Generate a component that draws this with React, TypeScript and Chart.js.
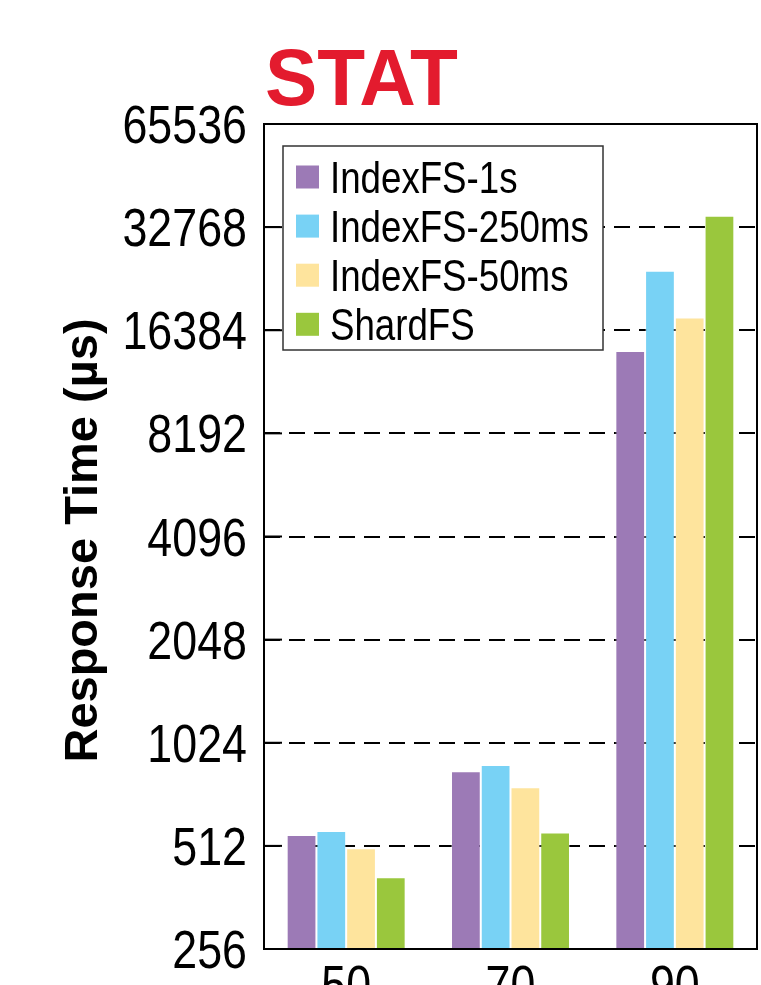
import React, { useEffect, useRef } from "react";
import { Chart, registerables } from "chart.js";

Chart.register(...registerables);

const categories = ["50", "70", "90"];
const seriesNames = ["IndexFS-1s", "IndexFS-250ms", "IndexFS-50ms", "ShardFS"];
const indexfs1s = [551, 845, 14260];
const indexfs250ms = [566, 882, 24430];
const indexfs50ms = [504, 759, 17840];
const shardfs = [415, 560, 35350];
const yTicks = [256, 512, 1024, 2048, 4096, 8192, 16384, 32768, 65536];
const seriesColors = ["#9c7ab6", "#78d2f5", "#fee49d", "#9ac73d"];
const chartTitle = "STAT";
const yTitle = "Response Time (\u00b5s)";

const SANS = "'Liberation Sans', Arial, sans-serif";

function narrowText(ctx: any, text: string, x: number, y: number, align: "left" | "right" | "center", k = 0.82) {
  const w = ctx.measureText(text).width * k;
  let x0 = x;
  if (align === "right") x0 = x - w;
  else if (align === "center") x0 = x - w / 2;
  ctx.save();
  ctx.textAlign = "left";
  ctx.translate(x0, y);
  ctx.scale(k, 1);
  ctx.fillText(text, 0, 0);
  ctx.restore();
}

const decorPlugin = {
  id: "decor",
  afterDatasetsDraw(chart: any) {
    const { ctx, chartArea: ca, scales } = chart;
    ctx.save();
    // inner tick marks on left
    ctx.strokeStyle = "#000";
    ctx.lineWidth = 2;
    yTicks.forEach((v) => {
      const y = scales.y.getPixelForValue(v);
      ctx.beginPath();
      ctx.moveTo(ca.left, y);
      ctx.lineTo(ca.left + 18, y);
      ctx.stroke();
    });
    // frame
    ctx.lineWidth = 2;
    ctx.strokeRect(ca.left, ca.top, ca.right - ca.left, ca.bottom - ca.top);

    // y tick labels
    ctx.fillStyle = "#000";
    ctx.font = `53px ${SANS}`;
    ctx.textBaseline = "alphabetic";
    yTicks.forEach((v) => {
      const y = scales.y.getPixelForValue(v);
      narrowText(ctx, String(v), ca.left - 17, y + 19, "right", 0.845);
    });
    // x tick labels
    categories.forEach((c, i) => {
      const x = scales.x.getPixelForValue(i);
      narrowText(ctx, c, x, ca.bottom + 54, "center", 0.845);
    });

    // legend
    const lx = ca.left + 19;
    const ly = ca.top + 22;
    const lw = 320;
    const lh = 204;
    ctx.fillStyle = "#fff";
    ctx.fillRect(lx, ly, lw, lh);
    ctx.strokeStyle = "#333";
    ctx.lineWidth = 1.5;
    ctx.strokeRect(lx, ly, lw, lh);
    ctx.font = `45px ${SANS}`;
    ctx.textBaseline = "alphabetic";
    chart.data.datasets.forEach((ds: any, i: number) => {
      const cy = ly + 31 + i * 49.1;
      ctx.fillStyle = ds.backgroundColor;
      ctx.fillRect(lx + 13, cy - 11.5, 23, 23);
      ctx.fillStyle = "#000";
      narrowText(ctx, ds.label, lx + 47, cy + 16, "left", 0.815);
    });

    // title
    ctx.fillStyle = "#e31b2e";
    ctx.font = `bold 80px ${SANS}`;
    ctx.textBaseline = "alphabetic";
    const tw = ctx.measureText(chartTitle).width;
    ctx.save();
    ctx.translate(ca.left + 1, 105);
    ctx.scale(193 / tw, 1);
    ctx.textAlign = "left";
    ctx.fillText(chartTitle, 0, 0);
    ctx.restore();

    // y axis title
    ctx.fillStyle = "#000";
    ctx.font = `bold 47px ${SANS}`;
    ctx.textAlign = "center";
    ctx.textBaseline = "alphabetic";
    ctx.save();
    ctx.translate(97, (ca.top + ca.bottom) / 2 + 4);
    ctx.rotate(-Math.PI / 2);
    ctx.fillText(yTitle, 0, 0);
    ctx.restore();

    ctx.restore();
  },
};

export default function App() {
  const ref = useRef<HTMLCanvasElement | null>(null);

  useEffect(() => {
    document.body.style.margin = "0";
    if (!ref.current) return;
    const values = [indexfs1s, indexfs250ms, indexfs50ms, shardfs];
    const chart = new Chart(ref.current, {
      type: "bar",
      data: {
        labels: categories,
        datasets: seriesNames.map((name, i) => ({
          label: name,
          data: values[i],
          backgroundColor: seriesColors[i],
          borderColor: "rgba(255,255,255,0.35)",
          borderWidth: 1,
          barPercentage: 1,
          categoryPercentage: 0.724,
        })),
      },
      options: {
        animation: false,
        responsive: false,
        maintainAspectRatio: false,
        layout: { padding: { top: 124, left: 0, right: 4, bottom: 0 } },
        plugins: {
          legend: { display: false },
          tooltip: { enabled: false },
          title: { display: false },
        },
        scales: {
          x: {
            type: "category",
            grid: { display: false },
            border: { display: false },
            ticks: { display: false },
            afterFit: (s: any) => {
              s.height = 36;
              s.paddingLeft = 0;
              s.paddingRight = 0;
            },
          },
          y: {
            type: "logarithmic",
            min: 256,
            max: 65536,
            afterBuildTicks: (s: any) => {
              s.ticks = yTicks.map((v) => ({ value: v }));
            },
            afterFit: (s: any) => {
              s.width = 264;
              s.paddingTop = 0;
              s.paddingBottom = 0;
            },
            grid: { color: "#000", lineWidth: 2, drawTicks: false },
            border: { display: false, dash: [16, 9] },
            ticks: { display: false },
          },
        },
      },
      plugins: [decorPlugin],
    });
    return () => chart.destroy();
  }, []);

  return (
    <div style={{ width: 761, height: 985, position: "relative" }}>
      <canvas ref={ref} width={761} height={985} style={{ display: "block" }} />
    </div>
  );
}
